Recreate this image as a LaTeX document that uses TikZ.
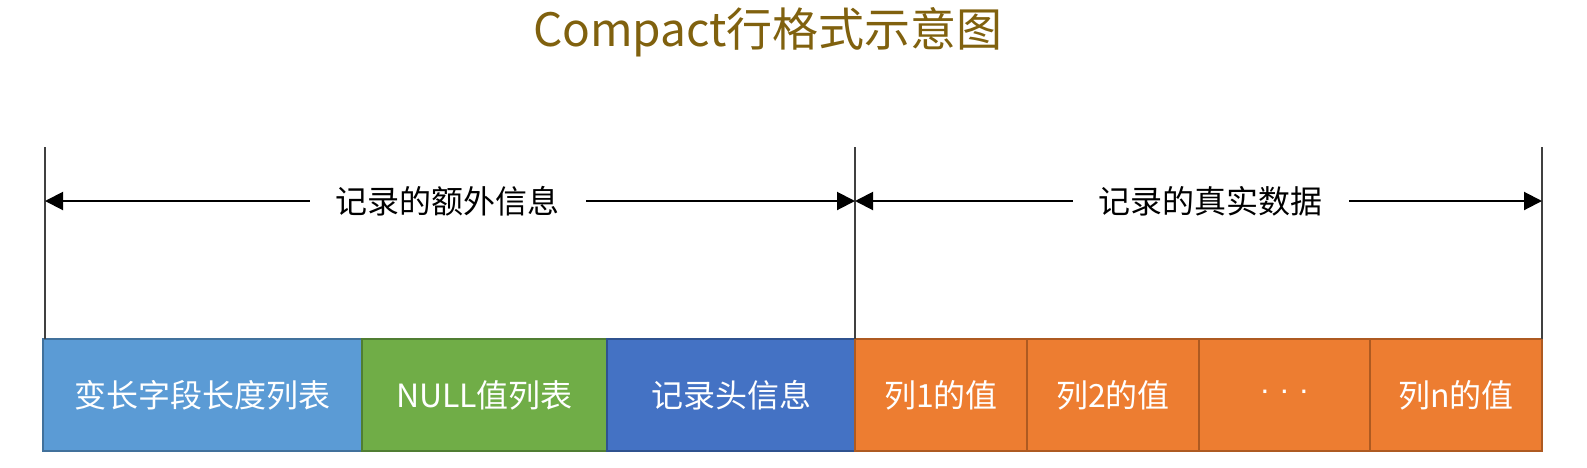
\documentclass[tikz,border=0pt]{standalone}
\usepackage{fontspec}
\setmainfont{Noto Sans CJK SC}
\newfontfamily\dotfont{Liberation Sans}
\usetikzlibrary{arrows.meta}
\definecolor{titlec}{RGB}{128,97,14}
\definecolor{bluef}{HTML}{5B9BD5}\definecolor{blued}{HTML}{41719C}
\definecolor{greenf}{HTML}{70AD47}\definecolor{greend}{HTML}{507E32}
\definecolor{dbluef}{HTML}{4472C4}\definecolor{dblued}{HTML}{2F528F}
\definecolor{orangef}{HTML}{ED7D31}\definecolor{oranged}{HTML}{AE5A21}
\definecolor{vline}{HTML}{404040}
\tikzset{
  cell/.style={rectangle, line width=2pt, minimum height=112pt, inner sep=0pt,
    text=white, font=\fontsize{32pt}{36pt}\selectfont},
  bluecell/.style={cell, fill=bluef, draw=blued},
  greencell/.style={cell, fill=greenf, draw=greend},
  dbluecell/.style={cell, fill=dbluef, draw=dblued},
  orangecell/.style={cell, fill=orangef, draw=oranged},
  guide/.style={draw=vline, line width=2pt},
  span/.style={draw=black, line width=2pt, {Triangle[length=18pt,width=18pt]}-{Triangle[length=18pt,width=18pt]}},
  spanlabel/.style={fill=white, inner xsep=26pt, inner ysep=4pt, font=\fontsize{32pt}{36pt}\selectfont, text=black}
}
\begin{document}
\begin{tikzpicture}[x=1pt,y=-1pt]
\useasboundingbox (0,0) rectangle (1587,467);
\node[font=\fontsize{46pt}{50pt}\selectfont, text=titlec] (title) at (768,32) {Compact行格式示意图};
% cells
\node[bluecell, minimum width=319pt] (b1) at (202.5,395) {变长字段长度列表};
\node[greencell, minimum width=245pt] (b2) at (484.5,395) {NULL值列表};
\node[dbluecell, minimum width=248pt] (b3) at (731,395) {记录头信息};
\node[orangecell, minimum width=172pt] (c1) at (941,395) {列1的值};
\node[orangecell, minimum width=172pt] (c2) at (1113,395) {列2的值};
\node[orangecell, minimum width=171pt] (c3) at (1284.5,395) {\dotfont · · ·};
\node[orangecell, minimum width=172pt] (c4) at (1456,395) {列n的值};
% guide lines
\coordinate (g1t) at (45,147);  \coordinate (g1b) at (45,339);
\coordinate (g2t) at (855,147); \coordinate (g2b) at (855,339);
\coordinate (g3t) at (1542,147);\coordinate (g3b) at (1542,339);
\draw[guide] (g1t) -- (g1b);
\draw[guide] (g2t) -- (g2b);
\draw[guide] (g3t) -- (g3b);
% spans
\coordinate (s1l) at (45,201); \coordinate (s1r) at (855,201);
\coordinate (s2l) at (855,201); \coordinate (s2r) at (1542,201);
\draw[span] (s1l) -- node[spanlabel, pos=0.497] (l1) {记录的额外信息} (s1r);
\draw[span] (s2l) -- node[spanlabel, pos=0.518] (l2) {记录的真实数据} (s2r);
\end{tikzpicture}
\end{document}
